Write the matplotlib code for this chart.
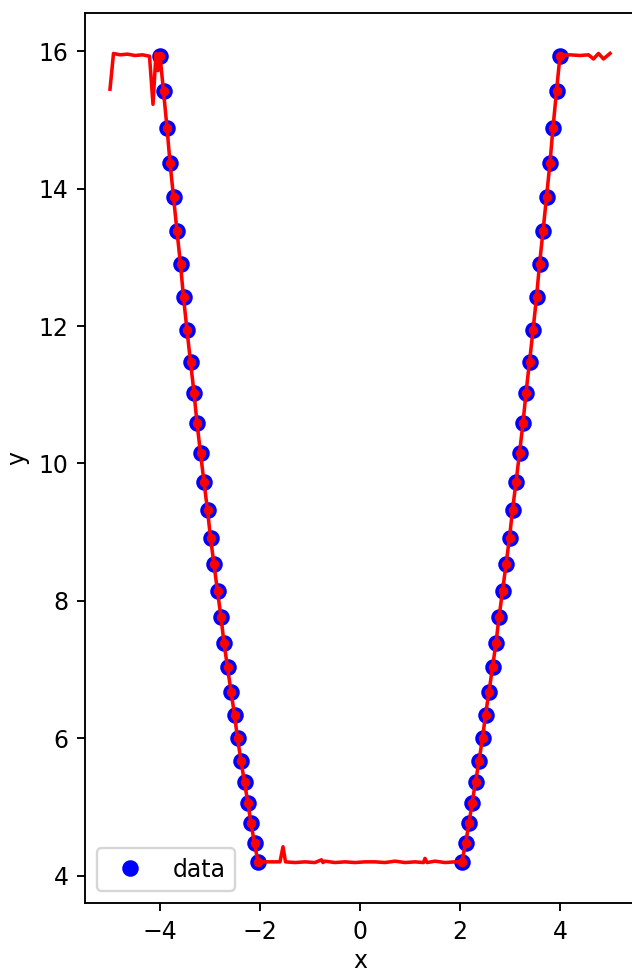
import matplotlib
matplotlib.use("Agg")
from matplotlib import pyplot as plt

# training samples (blue) - left and right branches
x_left = [-4.00, -3.93, -3.86, -3.80, -3.73, -3.66, -3.59, -3.53, -3.46, -3.39,
          -3.32, -3.26, -3.19, -3.12, -3.05, -2.99, -2.92, -2.85, -2.78, -2.72,
          -2.65, -2.58, -2.51, -2.45, -2.38, -2.31, -2.24, -2.18, -2.11, -2.04]
y_left = [15.94, 15.42, 14.89, 14.38, 13.88, 13.38, 12.90, 12.42, 11.94, 11.48,
          11.03, 10.59, 10.15, 9.73, 9.32, 8.92, 8.53, 8.14, 7.76, 7.39,
          7.03, 6.68, 6.34, 6.00, 5.67, 5.36, 5.05, 4.76, 4.47, 4.20]
x_right = [2.04, 2.11, 2.18, 2.24, 2.31, 2.38, 2.45, 2.51, 2.58, 2.65,
           2.72, 2.78, 2.85, 2.92, 2.99, 3.05, 3.12, 3.19, 3.26, 3.32,
           3.39, 3.46, 3.53, 3.59, 3.66, 3.73, 3.80, 3.86, 3.93, 4.00]
y_right = [4.20, 4.47, 4.76, 5.05, 5.36, 5.67, 6.00, 6.34, 6.68, 7.03,
           7.39, 7.76, 8.14, 8.53, 8.92, 9.32, 9.73, 10.15, 10.59, 11.03,
           11.48, 11.94, 12.42, 12.90, 13.38, 13.88, 14.38, 14.89, 15.42, 15.94]

# model prediction (red line) outside / between the branches
x_fit_left = [-5.00, -4.93, -4.80, -4.65, -4.50, -4.35, -4.21, -4.14, -4.08, -4.04]
y_fit_left = [15.45, 15.97, 15.95, 15.96, 15.94, 15.95, 15.93, 15.23, 15.97, 15.72]
x_fit_mid = [-1.98, -1.80, -1.60, -1.54, -1.49, -1.30, -1.10, -0.90, -0.77, -0.74,
             -0.70, -0.50, -0.30, -0.10, 0.10, 0.30, 0.50, 0.70, 0.90, 1.10,
             1.27, 1.30, 1.34, 1.50, 1.70, 1.90]
y_fit_mid = [4.20, 4.20, 4.20, 4.42, 4.20, 4.19, 4.20, 4.19, 4.23, 4.19,
             4.21, 4.19, 4.20, 4.19, 4.20, 4.20, 4.19, 4.21, 4.19, 4.20,
             4.19, 4.25, 4.19, 4.21, 4.19, 4.20]
x_fit_right = [4.20, 4.40, 4.57, 4.67, 4.77, 4.87, 5.00]
y_fit_right = [15.95, 15.94, 15.95, 15.89, 15.97, 15.89, 15.97]

x_all = x_left + x_right
y_all = y_left + y_right
x_line = x_fit_left + x_left + x_fit_mid + x_right + x_fit_right
y_line = y_fit_left + y_left + y_fit_mid + y_right + y_fit_right

dpi = 170
fig = plt.figure(figsize=(632 / dpi, 973 / dpi), dpi=dpi)
ax = fig.add_axes([85 / 632, 70 / 973, 550 / 632, 890 / 973])

ax.plot(x_all, y_all, 'o', color='b', label='data')
ax.plot(x_line, y_line, color='r')
ax.plot(x_all, y_all, '.', color='r')

ax.set_xticks([-4, -2, 0, 2, 4])
ax.set_yticks([4, 6, 8, 10, 12, 14, 16])
ax.set_xlabel("x", labelpad=2.5)
ax.set_ylabel("y")
ax.legend(loc='lower left')

fig.savefig("out.png", dpi=dpi)
